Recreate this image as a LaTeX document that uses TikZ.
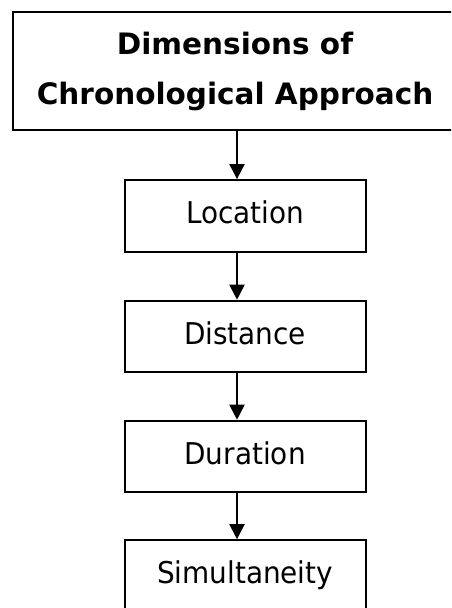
\documentclass[tikz,border=0pt]{standalone}
\usepackage{fontspec}
\setmainfont{DejaVu Sans}
\newfontfamily\boxfont{DejaVu Sans}[FakeStretch=0.93]
\usetikzlibrary{arrows.meta}
\begin{document}
\begin{tikzpicture}[x=1pt,y=-1pt,
  line width=2pt,
  titlebox/.style={draw,rectangle,inner sep=0pt,minimum width=444pt,minimum height=118pt,
    align=center,font=\fontsize{29.5}{50}\selectfont\bfseries},
  stepbox/.style={draw,rectangle,inner sep=0pt,minimum width=241pt,minimum height=71.6pt,
    font=\boxfont\fontsize{30}{36}\selectfont,text height=22.5pt,text depth=7.5pt},
  arr/.style={-{Triangle[width=15pt,length=15pt]},line width=2pt}]
\useasboundingbox (0,0) rectangle (451,608);
\clip (0,0) rectangle (451,608);
\node[titlebox] (title) at (235,71) {Dimensions of\\Chronological Approach};
\node[stepbox] (loc) at (245.1,215.9) {Location};
\node[stepbox] (dist) at (245.1,336.5) {Distance};
\node[stepbox] (dur) at (245.1,456.5) {Duration};
\node[stepbox] (sim) at (245.1,576) {Simultaneity};
\coordinate (ax) at (237,0);
\draw[arr] (title.south -| ax) -- (loc.north -| ax);
\draw[arr] (loc.south -| ax) -- (dist.north -| ax);
\draw[arr] (dist.south -| ax) -- (dur.north -| ax);
\draw[arr] (dur.south -| ax) -- (sim.north -| ax);
\end{tikzpicture}
\end{document}
